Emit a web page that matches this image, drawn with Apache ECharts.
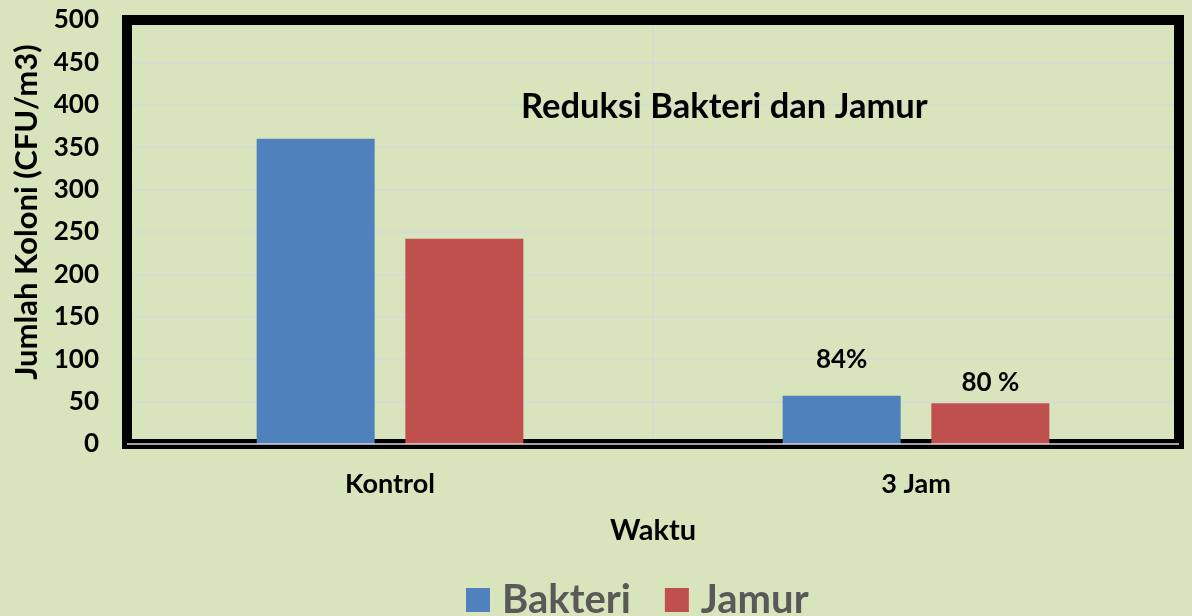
<!DOCTYPE html>
<html>
<head>
<meta charset="utf-8">
<script src="https://cdn.jsdelivr.net/npm/echarts@6/dist/echarts.min.js"></script>
<style>
html,body{margin:0;padding:0;background:#d8e4bc;}
#chart{width:1192px;height:616px;}
</style>
</head>
<body>
<div id="chart"></div>
<script>
// data
var categories = ['Kontrol', '3 Jam'];
var bakteri = [360, 57];
var jamur = [242, 48];
var bakteriLabels = ['', '84%'];
var jamurLabels = ['', '80 %'];
var yTicks = [0, 500, 50]; // min, max, step

var FONT = 'Lato, "Open Sans", sans-serif';

function withLabels(values, labels, dist){
    return values.map(function(v, i){
        var item = {value: v};
        if(labels[i]){
            item.label = {show: true, formatter: labels[i], distance: dist};
        }
        return item;
    });
}

var chart = echarts.init(document.getElementById('chart'));
var options = {
    backgroundColor: '#d8e4bc',
    animation: false,
    textStyle: {fontFamily: FONT},
    title: {
        text: 'Reduksi Bakteri dan Jamur',
        left: 521,
        top: 89,
        padding: 0,
        textStyle: {fontFamily: FONT, fontSize: 34.5, fontWeight: 'bold', color: '#000'}
    },
    legend: {
        data: ['Bakteri', 'Jamur'],
        left: 466,
        top: 580,
        padding: 0,
        icon: 'rect',
        itemWidth: 24,
        itemHeight: 24,
        itemGap: 34,
        textStyle: {fontFamily: FONT, fontSize: 40, fontWeight: 'bold', color: '#595959', padding: [0, 0, 0, 7]}
    },
    grid: {
        left: 127, right: 13, top: 20, bottom: 172,
        show: true,
        z: 1,
        borderColor: '#000',
        borderWidth: 10,
        backgroundColor: 'transparent'
    },
    xAxis: {
        type: 'category',
        data: categories,
        name: 'Waktu',
        nameLocation: 'middle',
        nameGap: 72,
        nameTextStyle: {fontFamily: FONT, fontSize: 29, fontWeight: 'bold', color: '#000'},
        axisLine: {lineStyle: {color: '#d9d9d9', width: 1.5}},
        axisTick: {show: true, length: 5, lineStyle: {color: '#d9d9d9'}},
        axisLabel: {margin: 27, fontFamily: FONT, fontSize: 27, fontWeight: 'bold', color: '#000'},
        splitLine: {show: true, interval: 0, showMinLine: false, showMaxLine: false, lineStyle: {color: '#d9d9d9', width: 1.5}}
    },
    yAxis: {
        type: 'value',
        min: yTicks[0],
        max: yTicks[1],
        interval: yTicks[2],
        name: 'Jumlah Koloni (CFU/m3)',
        nameLocation: 'middle',
        nameGap: 80,
        nameRotate: 90,
        nameTextStyle: {fontFamily: FONT, fontSize: 31, fontWeight: 'bold', color: '#000', padding: [0, 0, 0, 40]},
        axisLine: {show: false},
        axisTick: {show: false},
        axisLabel: {margin: 28, fontFamily: FONT, fontSize: 26, fontWeight: 'bold', color: '#000'},
        splitLine: {showMinLine: false, showMaxLine: false, lineStyle: {color: '#d9d9d9', width: 1.5}}
    },
    series: [
        {
            name: 'Bakteri',
            type: 'bar',
            barWidth: 118,
            barGap: '26%',
            data: withLabels(bakteri, bakteriLabels, 23),
            itemStyle: {color: '#4f81bd'},
            label: {position: 'top', fontFamily: FONT, fontSize: 26, fontWeight: 'bold', color: '#000'},
            // light axis line running through the thick bottom border
            markLine: {
                silent: true,
                symbol: 'none',
                label: {show: false},
                lineStyle: {color: '#d9d9d9', width: 1.5, type: 'solid'},
                data: [{yAxis: 0}]
            }
        },
        {
            name: 'Jamur',
            type: 'bar',
            barWidth: 118,
            data: withLabels(jamur, jamurLabels, 8),
            itemStyle: {color: '#c0504d'},
            label: {position: 'top', fontFamily: FONT, fontSize: 26, fontWeight: 'bold', color: '#000'}
        }
    ]
};
chart.setOption(options);
</script>
</body>
</html>
